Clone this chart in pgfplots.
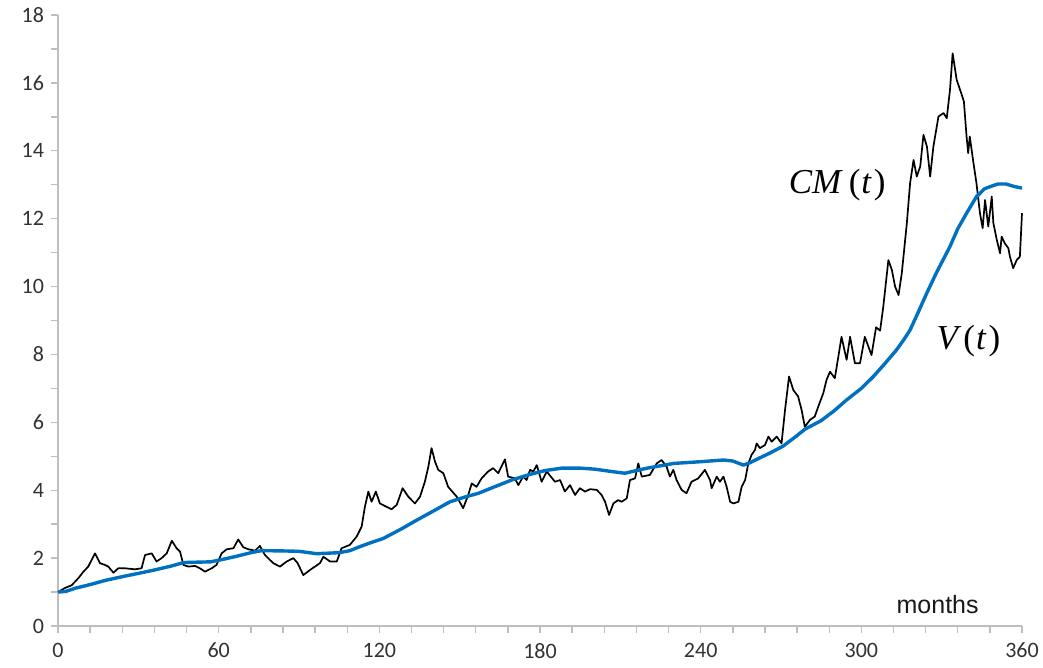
\documentclass[border=0pt]{standalone}
\usepackage{pgfplots}
\pgfplotsset{compat=1.18}
\usepackage{pgfplotstable}
\usepackage{fontspec}
\setmainfont{Carlito}
\newfontfamily\arialfont{Liberation Sans}
\newfontfamily\seriffont{Liberation Serif}
\definecolor{vblue}{RGB}{0,112,192}
\definecolor{axgray}{RGB}{190,190,190}
\definecolor{lblgray}{RGB}{50,50,50}

% CM(t)
\pgfplotstableread{
m v
0 1.00
2.6 1.12
5.1 1.20
7.6 1.41
9.5 1.60
11.3 1.75
13.8 2.14
15.7 1.85
17.5 1.80
18.8 1.75
20.7 1.57
22.5 1.70
25 1.70
28.8 1.67
31.2 1.70
32.5 2.09
35 2.14
36.8 1.90
38.7 2.00
40.6 2.14
42.5 2.51
44.3 2.29
45.6 2.19
46.8 1.80
48.7 1.75
51.2 1.77
53 1.70
54.9 1.60
57.4 1.70
59.2 1.80
61.1 2.14
63 2.26
65.5 2.29
67.3 2.55
69.2 2.32
71.1 2.26
73.6 2.22
75.4 2.36
77.3 2.09
80.4 1.85
82.9 1.75
85.4 1.90
87.9 2.00
89.5 1.85
91.6 1.50
94.1 1.65
97.8 1.85
99.1 2.04
101.6 1.90
104.1 1.90
105.9 2.29
109 2.39
111.5 2.63
113.4 2.93
114.6 3.51
115.9 3.96
117.1 3.66
118.7 3.96
120.2 3.61
122.7 3.51
124.6 3.44
126.5 3.57
128.7 4.06
130.8 3.81
133.3 3.61
135.2 3.81
137 4.25
138.3 4.69
139.5 5.24
140.8 4.84
142 4.60
143.9 4.50
145.7 4.10
148.9 3.81
151.3 3.47
153.2 3.86
154.5 4.20
156.3 4.10
158.2 4.35
160.6 4.55
162.5 4.65
164.4 4.50
166.9 4.91
168.1 4.40
170.6 4.35
171.9 4.15
173.7 4.40
175 4.30
176.3 4.60
177.5 4.55
178.8 4.74
180.6 4.25
182.5 4.55
185.6 4.25
187.5 4.30
189.3 3.96
191.2 4.15
193.1 3.86
194.9 4.06
196.8 3.96
198.7 4.03
201.2 4.01
203 3.86
204.3 3.66
205.8 3.27
207.4 3.61
209.2 3.71
210.5 3.66
212.4 3.76
213.6 4.30
215.5 4.35
216.7 4.79
218 4.40
221 4.45
223.6 4.79
225.4 4.89
227.3 4.69
228.5 4.40
229.8 4.60
231 4.30
232.9 4.01
234.7 3.91
236.6 4.25
239.1 4.35
241.6 4.60
243.5 4.30
244.1 4.06
246 4.40
247.2 4.25
248.5 4.40
249.7 4.10
251 3.66
252.2 3.61
254.1 3.66
255.3 4.10
256.6 4.30
257.8 4.79
259 5.04
260.3 5.19
260.9 5.38
262.1 5.24
264 5.33
265.3 5.58
266.5 5.43
268.4 5.58
270.2 5.38
271.5 6.36
273 7.35
274.6 6.95
276.4 6.76
277.7 6.36
278.9 5.87
280.8 6.07
282.6 6.17
283.9 6.46
285.8 6.86
287 7.25
288.3 7.49
290.1 7.30
291.4 7.93
292.6 8.52
294.5 7.84
295.8 8.52
297.6 7.74
299.5 7.74
301.3 8.52
303.8 7.98
305.5 8.80
307 8.70
308.2 9.41
310.1 10.78
311.4 10.49
312.6 10.00
313.9 9.75
315.1 10.39
317 11.87
318.2 13.04
319.5 13.73
320.7 13.24
322 13.54
323.2 14.47
324.5 14.12
325.7 13.24
326.9 14.12
328.8 15.01
330.7 15.11
331.9 14.96
333.1 15.79
334.1 16.87
335.6 16.09
337.5 15.65
338.3 15.45
339.3 14.42
339.9 13.93
340.5 14.42
341.8 13.68
343 13.04
344.3 12.16
345.3 11.72
346.2 12.55
347.4 11.77
348.7 12.65
349.3 11.87
350.6 11.37
351.8 10.98
352.4 11.47
353.6 11.27
354.9 11.13
355.5 10.88
356.7 10.54
358 10.78
359.2 10.88
360 12.16
}\cmdata

% V(t)
\pgfplotstableread{
m v
0 1.00
3 1.02
6.3 1.11
12 1.22
18 1.35
23.8 1.45
30 1.55
36 1.65
42 1.76
47 1.87
52 1.88
57 1.89
62 1.97
67 2.06
72 2.16
76 2.22
85 2.21
90 2.20
96.6 2.13
105 2.16
109 2.22
112.8 2.34
117 2.46
121.5 2.58
128 2.85
134 3.12
140 3.38
146.4 3.66
152 3.80
157 3.91
163 4.10
169.4 4.30
176 4.46
181.9 4.58
188.1 4.65
195 4.65
200.5 4.62
206.8 4.55
211.7 4.50
216 4.58
220 4.65
230 4.79
240 4.84
248.5 4.89
252 4.86
256 4.74
258.4 4.81
262 4.95
266 5.10
270.8 5.30
275 5.55
279 5.80
285 6.05
290 6.35
294.5 6.66
300 7.00
304.5 7.35
309 7.75
313.1 8.13
316 8.45
318.2 8.72
321 9.20
324.4 9.80
328 10.40
333.1 11.18
336 11.70
339.3 12.16
343 12.65
346 12.88
348 12.94
351 13.02
354 13.02
357 12.95
360 12.90
}\vdata

\begin{document}
\begin{tikzpicture}
\begin{axis}[
    scale only axis,
    width=482pt, height=305.5pt,
    xmin=0, xmax=360, ymin=0, ymax=18,
    axis x line=bottom, axis y line=left,
    axis line style={-, axgray, line width=0.8pt},
    xtick={0,60,...,360}, minor x tick num=4,
    ytick={0,2,...,18}, minor y tick num=1,
    tick align=outside,
    major tick length=3.5pt, minor tick length=3.5pt,
    every tick/.style={axgray, line width=0.7pt},
    /pgf/number format/assume math mode=true,
    ticklabel style={font=\fontsize{11}{13}\selectfont, text=lblgray},
    xticklabel style={yshift=-1.5pt},
    clip=false,
]
\addplot[black, line width=0.85pt, line join=round] table[x=m, y=v] {\cmdata};
\addplot[vblue, line width=1.7pt, line join=round] table[x=m, y=v] {\vdata};
\node[font=\seriffont\fontsize{17.5}{20}\selectfont] at (axis cs:291,13.0) {\textit{CM}\,(\kern0.5pt\textit{t}\kern1pt)};
\node[font=\seriffont\fontsize{17.5}{20}\selectfont] at (axis cs:340,8.4) {\textit{V}\kern1pt(\kern0.5pt\textit{t}\kern1pt)};
\node[font=\arialfont\fontsize{12.5}{14}\selectfont, text=black!90] at (axis cs:328.5,0.62) {months};
\end{axis}
\pgfresetboundingbox
\path[use as bounding box] ([shift={(-29pt,-21pt)}]current axis.south west) rectangle ([shift={(10.5pt,7.5pt)}]current axis.north east);
\end{tikzpicture}
\end{document}
